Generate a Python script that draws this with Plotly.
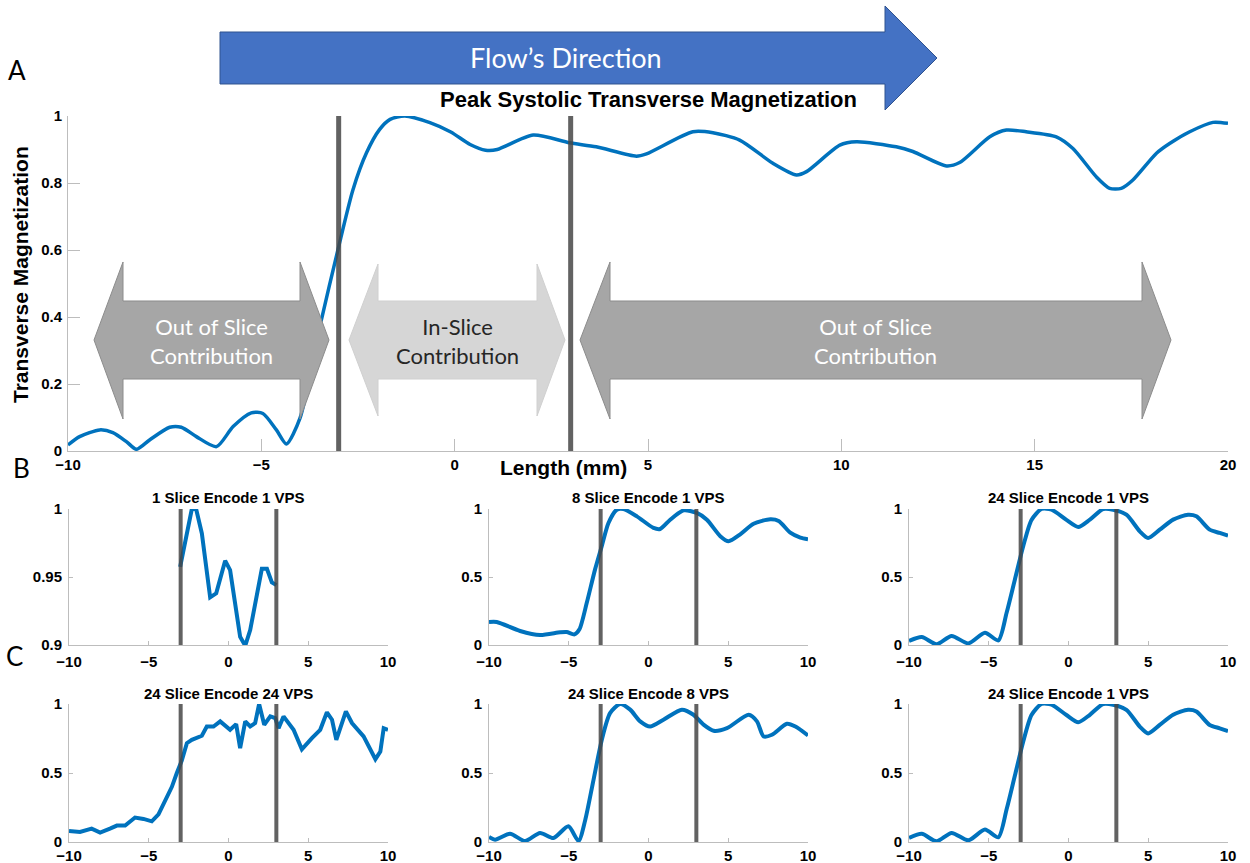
import plotly.graph_objects as go

W, H = 1250, 863

# ---------------- data ----------------
main_x = [-10, -9.70, -9.18, -8.84, -8.49, -8.23, -7.89, -7.37, -7.07, -6.68, -6.16, -5.73, -5.26, -4.96,
          -4.61, -4.35, -4.0, -3.45, -3.02, -2.63, -2.28, -1.94, -1.67, -1.29, -0.64, -0.1, 0.4, 0.8,
          1.1, 2.03, 2.97, 3.66, 4.7, 4.96, 6.16, 6.68, 7.37, 8.23, 8.84, 9.1, 9.96, 10.39, 11.42, 11.85,
          12.72, 13.06, 13.84, 14.27, 14.78, 15.56, 15.99, 16.59, 16.94, 17.24, 17.54, 18.15, 18.49, 19.01,
          19.61, 20.0]
main_y = [0.018, 0.043, 0.063, 0.055, 0.028, 0.005, 0.033, 0.071, 0.071, 0.043, 0.013, 0.073, 0.114, 0.112,
          0.063, 0.021, 0.098, 0.39, 0.60, 0.78, 0.89, 0.96, 0.99, 1.0, 0.98, 0.952, 0.915, 0.898,
          0.90, 0.943, 0.92, 0.908, 0.88, 0.887, 0.953, 0.95, 0.928, 0.859, 0.824, 0.834, 0.913, 0.923, 0.908, 0.894,
          0.851, 0.861, 0.938, 0.958, 0.953, 0.938, 0.903, 0.819, 0.784, 0.784, 0.809, 0.889, 0.918, 0.953,
          0.981, 0.978]

b1_x = [-3.03, -2.62, -2.3, -2.03, -1.67, -1.15, -0.77, -0.21, 0.1, 0.73, 1.05, 1.36, 1.78, 2.09, 2.41, 2.72, 3.0]
b1_y = [0.9575, 0.982, 1.0, 1.0, 0.982, 0.935, 0.938, 0.962, 0.955, 0.906, 0.8995, 0.911, 0.938, 0.956, 0.956, 0.946, 0.944]

b2_x = [-10, -9.52, -8.05, -6.8, -5.54, -5.13, -4.64, -4.33, -3.87, -3.35, -2.93, -2.51, -1.99, -1.57, -0.73,
        0.31, 0.73, 1.36, 2.2, 3.03, 3.66, 4.5, 5.02, 5.75, 6.59, 7.64, 8.16, 8.89, 9.52, 10]
b2_y = [0.169, 0.169, 0.103, 0.073, 0.093, 0.095, 0.078, 0.115, 0.31, 0.556, 0.727, 0.897, 0.995, 1.0, 0.946,
        0.861, 0.853, 0.921, 0.99, 0.971, 0.921, 0.8, 0.763, 0.814, 0.892, 0.924, 0.912, 0.826, 0.79, 0.778]

b3_x = [-10, -9.2, -8.27, -7.33, -6.28, -5.24, -4.4, -3.88, -3.36, -2.84, -2.32, -1.69, -1.06, -0.13, 0.61,
        1.34, 2.17, 2.8, 3.63, 4.47, 4.99, 5.72, 6.56, 7.49, 8.02, 8.85, 9.48, 10]
b3_y = [0.03, 0.059, 0.005, 0.066, 0.012, 0.09, 0.034, 0.237, 0.482, 0.726, 0.92, 1.0, 0.995, 0.92, 0.868,
        0.922, 1.0, 0.995, 0.958, 0.836, 0.787, 0.848, 0.922, 0.958, 0.946, 0.848, 0.824, 0.804]

c1_x = [-10, -9.31, -8.58, -8.05, -7.43, -7.0, -6.48, -5.86, -5.33, -4.81, -4.39, -3.97, -3.55, -3.24, -2.93,
        -2.61, -2.3, -1.67, -1.36, -0.94, -0.52, 0.1, 0.48, 0.73, 1.05, 1.36, 1.67, 1.92, 2.24, 2.62, 2.93,
        3.14, 3.45, 4.08, 4.6, 5.23, 5.75, 6.17, 6.49, 6.76, 7.05, 7.36, 7.74, 8.47, 9.21, 9.52, 9.73, 10]
c1_y = [0.08, 0.073, 0.097, 0.068, 0.097, 0.119, 0.119, 0.177, 0.167, 0.15, 0.2, 0.303, 0.4, 0.5, 0.59,
        0.716, 0.74, 0.77, 0.837, 0.837, 0.874, 0.813, 0.854, 0.68, 0.874, 0.837, 0.862, 1.0, 0.85, 0.91, 0.898,
        0.825, 0.91, 0.813, 0.672, 0.752, 0.813, 0.94, 0.886, 0.74, 0.837, 0.947, 0.862, 0.765, 0.6, 0.655, 0.825, 0.813]

c2_x = [-10, -9.62, -8.68, -7.74, -6.8, -5.96, -5.02, -4.39, -3.97, -3.45, -2.93, -2.41, -1.78, -1.15, -0.52,
        0.1, 0.94, 2.09, 2.82, 3.45, 4.08, 4.92, 6.28, 6.8, 7.22, 7.74, 8.68, 9.21, 10]
c2_y = [0.036, 0.017, 0.06, 0.007, 0.066, 0.029, 0.114, 0.007, 0.158, 0.449, 0.74, 0.934, 1.0, 0.959, 0.874,
        0.837, 0.886, 0.959, 0.922, 0.85, 0.806, 0.825, 0.922, 0.874, 0.765, 0.777, 0.857, 0.837, 0.772]

c3_x = b3_x
c3_y = b3_y

slice_edges = [-3, 3]

panel_titles = ["1 Slice Encode 1 VPS", "8 Slice Encode 1 VPS", "24 Slice Encode 1 VPS",
                "24 Slice Encode 24 VPS", "24 Slice Encode 8 VPS", "24 Slice Encode 1 VPS"]

# ---------------- figure ----------------
BLUE = "#0072BD"
AX = "#BDBDBD"
TF = dict(family="Liberation Sans, Arial", size=15, color="black", weight="bold")

fig = go.Figure()

def px2x(px):
    return px / W

def px2y(py):
    return 1 - py / H

main_dom_x = [px2x(68), px2x(1228)]
main_dom_y = [px2y(451), px2y(116)]
cols = [(69, 388), (489, 808), (909, 1228)]
rows = [(509, 645), (704, 842)]

panels = [(b1_x, b1_y, "linear"), (b2_x, b2_y, "spline"), (b3_x, b3_y, "spline"),
          (c1_x, c1_y, "linear"), (c2_x, c2_y, "spline"), (c3_x, c3_y, "spline")]

fig.add_trace(go.Scatter(x=main_x, y=main_y, mode="lines", line=dict(color=BLUE, width=3.5, shape="spline", smoothing=0.7),
                         cliponaxis=False, showlegend=False, xaxis="x", yaxis="y"))

layout = dict(
    width=W, height=H, margin=dict(l=0, r=0, t=0, b=0, autoexpand=False),
    paper_bgcolor="white", plot_bgcolor="white", showlegend=False,
)

def axstyle(dom, rng, ticklen, **kw):
    d = dict(domain=dom, range=rng, showline=True, linecolor=AX, linewidth=1, ticks="inside",
             tickcolor=AX, ticklen=ticklen, tickwidth=1, showgrid=False, zeroline=False,
             tickfont=TF, fixedrange=True, automargin=False)
    d.update(kw)
    return d

layout["xaxis"] = axstyle(main_dom_x, [-10, 20], 12, anchor="y", tickvals=[-10, -5, 0, 5, 10, 15, 20],
                          ticklabelstandoff=0)
layout["yaxis"] = axstyle(main_dom_y, [0, 1], 12, anchor="x", tickvals=[0, 0.2, 0.4, 0.6, 0.8, 1],
                          ticklabelstandoff=2)

annotations = []
shapes = []

for i, (px_, py_, shp) in enumerate(panels):
    r, c = divmod(i, 3)
    n = i + 2
    xa, ya = f"x{n}", f"y{n}"
    fig.add_trace(go.Scatter(x=px_, y=py_, mode="lines",
                             line=dict(color=BLUE, width=4, shape=shp, smoothing=0.7),
                             cliponaxis=False, showlegend=False, xaxis=xa, yaxis=ya))
    xd = [px2x(cols[c][0]), px2x(cols[c][1])]
    yd = [px2y(rows[r][1]), px2y(rows[r][0])]
    if i == 0:
        yr, yt = [0.9, 1.0], [0.9, 0.95, 1]
    else:
        yr, yt = [0, 1], [0, 0.5, 1]
    layout[f"xaxis{n}"] = axstyle(xd, [-10, 10], 4, anchor=ya, tickvals=[-10, -5, 0, 5, 10],
                                  ticklabelstandoff=(3 if r == 0 else 0))
    layout[f"yaxis{n}"] = axstyle(yd, yr, 4, anchor=xa, tickvals=yt, ticklabelstandoff=3)
    for e in slice_edges:
        shapes.append(dict(type="line", xref=xa, yref=f"{ya} domain", x0=e, x1=e, y0=0, y1=1,
                           line=dict(color="rgba(70,70,70,0.85)", width=4), layer="above"))
    ty = rows[r][0] - 11
    annotations.append(dict(text=panel_titles[i], x=px2x((cols[c][0] + cols[c][1]) / 2), y=px2y(ty),
                            xref="paper", yref="paper", showarrow=False, xanchor="center", yanchor="middle",
                            font=dict(family="Liberation Sans, Arial", size=15, color="black", weight="bold")))

for e in slice_edges:
    shapes.append(dict(type="line", xref="x", yref="y domain", x0=e, x1=e, y0=0, y1=1,
                       line=dict(color="rgba(70,70,70,0.85)", width=5), layer="above"))

def path(pts):
    return "M " + " L ".join(f"{px2x(a):.5f},{px2y(b):.5f}" for a, b in pts) + " Z"

# flow arrow
shapes.append(dict(type="path", xref="paper", yref="paper",
                   path=path([(220, 32), (885, 32), (885, 6), (937, 58), (885, 110), (885, 84), (220, 84)]),
                   fillcolor="#4472C4", line=dict(color="#2F528F", width=1), layer="above"))

def dbl(tl, bl, br, tr, cy=340, bt=301, bb=379, ht=262, hb=419):
    return [(tl, cy), (bl, ht), (bl, bt), (br, bt), (br, ht), (tr, cy), (br, hb), (br, bb), (bl, bb), (bl, hb)]

shapes.append(dict(type="path", xref="paper", yref="paper", path=path(dbl(94, 123, 300, 329)),
                   fillcolor="#A6A6A6", line=dict(color="#8C8C8C", width=1), layer="above"))
shapes.append(dict(type="path", xref="paper", yref="paper", path=path(dbl(349, 378, 537, 565, ht=264, hb=416)),
                   fillcolor="#D6D6D6", line=dict(color="#D0D0D0", width=1), layer="above"))
shapes.append(dict(type="path", xref="paper", yref="paper", path=path(dbl(580, 610, 1142, 1171)),
                   fillcolor="#A6A6A6", line=dict(color="#8C8C8C", width=1), layer="above"))

def ann(text, x, y, size, color="black", family="Lato, Open Sans", weight="normal", angle=0):
    annotations.append(dict(text=text, x=px2x(x), y=px2y(y), xref="paper", yref="paper", showarrow=False,
                            xanchor="center", yanchor="middle", textangle=angle,
                            font=dict(family=family, size=size, color=color, weight=weight)))

ann("Flow’s Direction", 566, 58, 27, color="white")
ann("Peak Systolic Transverse Magnetization", 648, 100, 22, family="Liberation Sans, Arial", weight="bold")
ann("Out of Slice<br>Contribution", 211, 341, 22, color="white")
ann("In-Slice<br>Contribution", 457, 341, 22, color="#262626")
ann("Out of Slice<br>Contribution", 875, 341, 22, color="white")
ann("Transverse Magnetization", 20, 275, 21, family="Liberation Sans, Arial", weight="bold", angle=-90)
ann("Length (mm)", 563, 467, 21, family="Liberation Sans, Arial", weight="bold")
ann("A", 17, 70, 26)
ann("B", 21, 468, 26)
ann("C", 14, 656, 26)

layout["shapes"] = shapes
layout["annotations"] = annotations
fig.update_layout(**layout)
fig.write_html("out.html", config={"displayModeBar": False},
               post_script="document.body.style.margin='0';document.body.style.overflow='hidden';")
